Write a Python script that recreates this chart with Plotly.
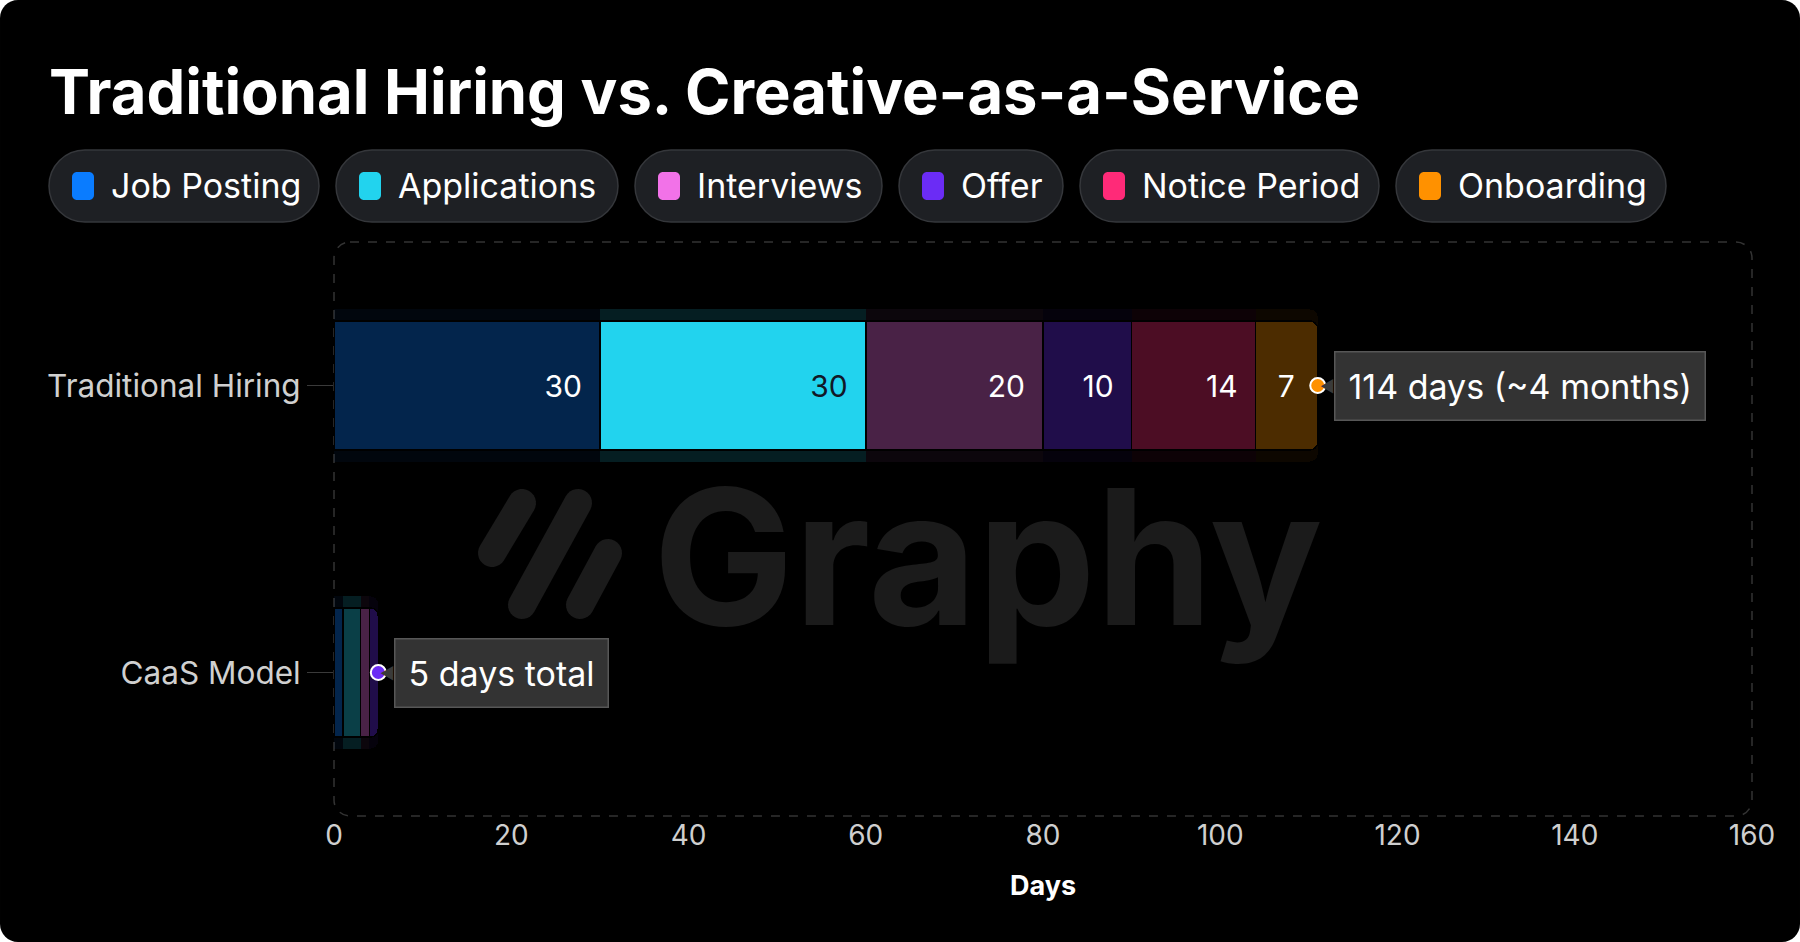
import math
import plotly.graph_objects as go

# data
phases = ["Job Posting", "Applications", "Interviews", "Offer", "Notice Period", "Onboarding"]
phase_colors = ["#0a7cff", "#22d3ee", "#f272e8", "#6b2cf5", "#ff2a78", "#ff9100"]
models = ["Traditional Hiring", "CaaS Model"]
traditional_days = [30, 30, 20, 10, 14, 7]
caas_days = [1, 2, 1, 1, 0, 0]
total_labels = ["114 days (~4 months)", "5 days total"]
x_ticks = [0, 20, 40, 60, 80, 100, 120, 140, 160]
highlighted = "Applications"

W, H = 1800, 942
ML, MR, MT, MB = 334, 48, 242, 126
PW, PH = W - ML - MR, H - MT - MB
FONT = "Inter, Roboto, sans-serif"


def X(px):
    return (px - ML) / PW


def Y(py):
    return (H - MB - py) / PH


def rgb(hex_color):
    h = hex_color.lstrip("#")
    return int(h[0:2], 16), int(h[2:4], 16), int(h[4:6], 16)


def rgba(hex_color, a):
    return "rgba(%d,%d,%d,%.3f)" % (*rgb(hex_color), a)


def dim(hex_color, a=0.3):
    # colour faded onto the black card, kept opaque
    return "rgb(%d,%d,%d)" % tuple(round(c * a) for c in rgb(hex_color))


def round_rect(x0, y0, x1, y1, r):
    k = 0.5523 * r
    p = lambda px, py: "%.5f,%.5f" % (X(px), Y(py))
    return ("M" + p(x0 + r, y0) + " L" + p(x1 - r, y0)
            + " C" + p(x1 - r + k, y0) + " " + p(x1, y0 + r - k) + " " + p(x1, y0 + r)
            + " L" + p(x1, y1 - r)
            + " C" + p(x1, y1 - r + k) + " " + p(x1 - r + k, y1) + " " + p(x1 - r, y1)
            + " L" + p(x0 + r, y1)
            + " C" + p(x0 + r - k, y1) + " " + p(x0, y1 - r + k) + " " + p(x0, y1 - r)
            + " L" + p(x0, y0 + r)
            + " C" + p(x0, y0 + r - k) + " " + p(x0 + r - k, y0) + " " + p(x0 + r, y0) + " Z")


def capsule(x0, y0, x1, y1, r, n=14):
    a = math.atan2(y1 - y0, x1 - x0)
    pts = []
    for i in range(n + 1):
        t = a - math.pi / 2 + math.pi * i / n
        pts.append((x1 + r * math.cos(t), y1 + r * math.sin(t)))
    for i in range(n + 1):
        t = a + math.pi / 2 + math.pi * i / n
        pts.append((x0 + r * math.cos(t), y0 + r * math.sin(t)))
    return "M" + " L".join("%.5f,%.5f" % (X(px), Y(py)) for px, py in pts) + " Z"


fig = go.Figure()

# soft glow behind the bars
for i, name in enumerate(phases):
    a = 0.14 if name == highlighted else 0.05
    fig.add_bar(
        y=models, x=[traditional_days[i], caas_days[i]], orientation="h",
        width=0.53, marker=dict(color=rgba(phase_colors[i], a), line_width=0),
        hoverinfo="skip", yaxis="y",
    )

# the bars themselves
for i, name in enumerate(phases):
    on = name == highlighted
    fill = [phase_colors[i] if on else dim(phase_colors[i]), dim(phase_colors[i])]
    fig.add_bar(
        name=name, y=models, x=[traditional_days[i], caas_days[i]], orientation="h",
        width=0.45, yaxis="y2",
        marker=dict(color=fill, line=dict(color="#000000", width=1.5)),
        text=["%d\u2002" % traditional_days[i], ""],
        textposition="inside", insidetextanchor="end", constraintext="none",
        textfont=dict(family=FONT, size=30, color="#111827" if on else "#ffffff"),
        hovertemplate="%{y}<br>" + name + ": %{x} days<extra></extra>",
    )

totals = [sum(traditional_days), sum(caas_days)]
dot_colors = []
for days in (traditional_days, caas_days):
    last = max(i for i, d in enumerate(days) if d > 0)
    dot_colors.append(phase_colors[last])

fig.add_scatter(
    x=totals, y=models, yaxis="y2", mode="markers",
    marker=dict(size=15, color=dot_colors, line=dict(color="#ffffff", width=2)),
    hoverinfo="skip",
)

for t, m, label in zip(totals, models, total_labels):
    fig.add_annotation(
        x=t, y=m, xref="x", yref="y2", text="\u25c0", showarrow=False,
        xanchor="right", xshift=19, font=dict(size=16, color="#3a3a3a"),
    )
    fig.add_annotation(
        x=t, y=m, xref="x", yref="y2", text=label, showarrow=False,
        xanchor="left", xshift=16, yanchor="middle",
        font=dict(family=FONT, size=34, color="#ffffff"),
        bgcolor="#333333", bordercolor="#575757", borderwidth=1.5, borderpad=13,
    )

shapes = [
    dict(type="path", path=round_rect(0, 0, W, H, 18), xref="paper", yref="paper",
         fillcolor="#000000", line_width=0, layer="below"),
    dict(type="path", path=round_rect(ML, MT, ML + PW, MT + PH, 16), xref="paper", yref="paper",
         fillcolor="rgba(0,0,0,0)", line=dict(color="#333333", width=1.5, dash="dash"), layer="below"),
]

# watermark
for seg in [(522, 503, 492, 553), (578, 503, 522, 605), (608, 553, 580, 605)]:
    shapes.append(dict(type="path", path=capsule(*seg, 14), xref="paper", yref="paper",
                       fillcolor="#1b1b1b", line_width=0, layer="below"))
fig.add_annotation(
    x=X(988), y=Y(556), xref="paper", yref="paper", text="Graphy", showarrow=False,
    font=dict(family=FONT, size=188, color="#1b1b1b", weight=700),
)

# legend pills
pill_left = [49, 336, 635, 899, 1080, 1396]
pill_right = [319, 618, 882, 1063, 1379, 1666]
for name, col, l, r in zip(phases, phase_colors, pill_left, pill_right):
    shapes.append(dict(type="path", path=round_rect(l, 150, r, 222, 36), xref="paper", yref="paper",
                       fillcolor="#1e2024", line=dict(color="#35373b", width=1.5), layer="below"))
    shapes.append(dict(type="path", path=round_rect(l + 23, 172, l + 45, 200, 5), xref="paper", yref="paper",
                       fillcolor=col, line_width=0, layer="below"))
    fig.add_annotation(
        x=X(l + 60), y=Y(186), xref="paper", yref="paper", text=name, showarrow=False,
        xanchor="left", yanchor="middle", font=dict(family=FONT, size=34, color="#ffffff"),
    )

fig.add_annotation(
    x=X(47), y=Y(91), xref="paper", yref="paper", showarrow=False,
    text="Traditional Hiring vs. Creative-as-a-Service",
    xanchor="left", yanchor="middle", font=dict(family=FONT, size=61.5, color="#ffffff", weight=700),
)

fig.update_layout(
    width=W, height=H,
    margin=dict(l=ML, r=MR, t=MT, b=MB),
    paper_bgcolor="#ffffff", plot_bgcolor="rgba(0,0,0,0)",
    barmode="stack", barcornerradius=8, showlegend=False,
    shapes=shapes,
    font=dict(family=FONT, color="#d0d0d0"),
    xaxis=dict(
        range=[0, 160], tickvals=x_ticks, showgrid=False, zeroline=False, showline=False,
        tickfont=dict(size=28, color="#cfcfcf"),
        title=dict(text="Days", standoff=25, font=dict(size=27, color="#ffffff", weight=700)),
    ),
    yaxis=dict(
        categoryorder="array", categoryarray=models[::-1], range=[-0.5, 1.5],
        showgrid=False, zeroline=False, showline=False,
        ticks="outside", ticklen=26, tickcolor="#3a3a3a", tickwidth=1,
        tickfont=dict(size=31.5, color="#d0d0d0"),
    ),
    yaxis2=dict(
        overlaying="y", categoryorder="array", categoryarray=models[::-1], range=[-0.5, 1.5],
        visible=False,
    ),
)

fig.write_html("out.html", config={"displayModeBar": False},
               post_script="document.body.style.margin='0';")
